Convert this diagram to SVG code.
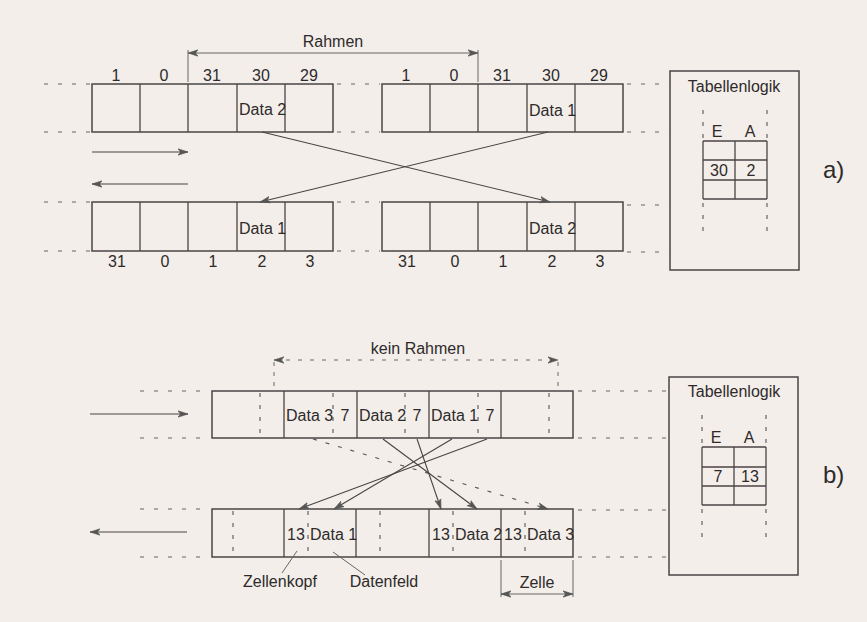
<svg xmlns="http://www.w3.org/2000/svg" width="867" height="622" viewBox="0 0 867 622">
<style>
.bg{fill:#f3eeea}
.frame{fill:none;stroke:#4a4545;stroke-width:1.5}
.sep{stroke:#4a4545;stroke-width:1.3}
.dsep{stroke:#5a5555;stroke-width:1.1;stroke-dasharray:4 8}
.ext{stroke:#6a6565;stroke-width:1.1;stroke-dasharray:4 10}
.thin{stroke:#666;stroke-width:1;fill:none}
.dthin{stroke:#666;stroke-width:1;fill:none;stroke-dasharray:4 6}
.conn{stroke:#4a4545;stroke-width:1.1;fill:none;marker-end:url(#ah)}
.dconn{stroke:#5a5555;stroke-width:1.1;fill:none;stroke-dasharray:4 9;marker-end:url(#ah)}
.dim{stroke:#666;stroke-width:1;fill:none;marker-start:url(#ah);marker-end:url(#ah)}
.ddim{stroke:#666;stroke-width:1;fill:none;stroke-dasharray:4 8;marker-start:url(#ah);marker-end:url(#ah)}
text{font-family:"Liberation Sans",Arial,sans-serif;font-size:16px;fill:#2e2a2a}
.c{text-anchor:middle}
.big{font-size:24px}
</style>
<defs>
<marker id="ah" markerUnits="userSpaceOnUse" markerWidth="11" markerHeight="8" refX="10" refY="4" orient="auto-start-reverse">
<path d="M0,0.8 L10,4 L0,7.2 L2.5,4 z" fill="#555" stroke="#555" stroke-width="0.6"/>
</marker>
</defs>
<rect class="bg" x="0" y="0" width="867" height="622"/>

<!-- ===== Part a ===== -->
<g id="a-top-left">
<rect class="frame" x="92" y="84" width="241" height="48"/>
<line class="sep" x1="140" y1="84" x2="140" y2="132"/>
<line class="sep" x1="188" y1="84" x2="188" y2="132"/>
<line class="sep" x1="237" y1="84" x2="237" y2="132"/>
<line class="sep" x1="285" y1="84" x2="285" y2="132"/>
<text class="c" x="116" y="81">1</text>
<text class="c" x="164" y="81">0</text>
<text class="c" x="212" y="81">31</text>
<text class="c" x="261" y="81">30</text>
<text class="c" x="309" y="81">29</text>
<text x="239" y="115">Data 2</text>
</g>
<g id="a-top-right">
<rect class="frame" x="382" y="84" width="241" height="48"/>
<line class="sep" x1="430" y1="84" x2="430" y2="132"/>
<line class="sep" x1="478" y1="84" x2="478" y2="132"/>
<line class="sep" x1="527" y1="84" x2="527" y2="132"/>
<line class="sep" x1="575" y1="84" x2="575" y2="132"/>
<text class="c" x="406" y="81">1</text>
<text class="c" x="454" y="81">0</text>
<text class="c" x="502" y="81">31</text>
<text class="c" x="551" y="81">30</text>
<text class="c" x="599" y="81">29</text>
<text x="529" y="116">Data 1</text>
</g>
<g id="a-bottom-left">
<rect class="frame" x="92" y="202" width="241" height="49"/>
<line class="sep" x1="140" y1="202" x2="140" y2="251"/>
<line class="sep" x1="188" y1="202" x2="188" y2="251"/>
<line class="sep" x1="237" y1="202" x2="237" y2="251"/>
<line class="sep" x1="285" y1="202" x2="285" y2="251"/>
<text class="c" x="117" y="267">31</text>
<text class="c" x="165" y="267">0</text>
<text class="c" x="213" y="267">1</text>
<text class="c" x="262" y="267">2</text>
<text class="c" x="310" y="267">3</text>
<text x="239" y="234">Data 1</text>
</g>
<g id="a-bottom-right">
<rect class="frame" x="382" y="202" width="241" height="49"/>
<line class="sep" x1="430" y1="202" x2="430" y2="251"/>
<line class="sep" x1="478" y1="202" x2="478" y2="251"/>
<line class="sep" x1="527" y1="202" x2="527" y2="251"/>
<line class="sep" x1="575" y1="202" x2="575" y2="251"/>
<text class="c" x="407" y="267">31</text>
<text class="c" x="455" y="267">0</text>
<text class="c" x="503" y="267">1</text>
<text class="c" x="552" y="267">2</text>
<text class="c" x="600" y="267">3</text>
<text x="529" y="234">Data 2</text>
</g>
<g id="a-table">
<rect class="frame" x="670" y="71" width="129" height="199"/>
<text class="c" x="734" y="92">Tabellenlogik</text>
<line class="sep" x1="703" y1="141" x2="767" y2="141"/>
<line class="sep" x1="703" y1="160" x2="767" y2="160"/>
<line class="sep" x1="703" y1="180" x2="767" y2="180"/>
<line class="sep" x1="703" y1="199" x2="767" y2="199"/>
<line class="sep" x1="703" y1="141" x2="703" y2="199"/>
<line class="sep" x1="735" y1="141" x2="735" y2="199"/>
<line class="sep" x1="767" y1="141" x2="767" y2="199"/>
<line class="dsep" x1="703" y1="110" x2="703" y2="141"/>
<line class="dsep" x1="767" y1="110" x2="767" y2="141"/>
<line class="dsep" x1="703" y1="203" x2="703" y2="233"/>
<line class="dsep" x1="767" y1="203" x2="767" y2="233"/>
<text class="c" x="717" y="137">E</text>
<text class="c" x="750" y="137">A</text>
<text class="c" x="719" y="176">30</text>
<text class="c" x="751" y="176">2</text>
</g>
<text class="big" x="823" y="178">a)</text>
<text class="c" x="333" y="47">Rahmen</text>

<!-- ===== Part b ===== -->
<g id="b-top">
<rect class="frame" x="212" y="391" width="361" height="47"/>
<line class="sep" x1="284" y1="391" x2="284" y2="438"/>
<line class="sep" x1="357" y1="391" x2="357" y2="438"/>
<line class="sep" x1="429" y1="391" x2="429" y2="438"/>
<line class="sep" x1="501" y1="391" x2="501" y2="438"/>
<line class="dsep" x1="260" y1="393" x2="260" y2="438"/>
<line class="dsep" x1="333" y1="393" x2="333" y2="438"/>
<line class="dsep" x1="405" y1="393" x2="405" y2="438"/>
<line class="dsep" x1="478" y1="393" x2="478" y2="438"/>
<line class="dsep" x1="549" y1="393" x2="549" y2="438"/>
<text x="286" y="421">Data 3</text>
<text class="c" x="345" y="421">7</text>
<text x="359" y="421">Data 2</text>
<text class="c" x="417" y="421">7</text>
<text x="431" y="421">Data 1</text>
<text class="c" x="490" y="421">7</text>
</g>
<g id="b-bottom">
<rect class="frame" x="212" y="509" width="361" height="48"/>
<line class="sep" x1="284" y1="509" x2="284" y2="557"/>
<line class="sep" x1="356" y1="509" x2="356" y2="557"/>
<line class="sep" x1="429" y1="509" x2="429" y2="557"/>
<line class="sep" x1="501" y1="509" x2="501" y2="557"/>
<line class="dsep" x1="233" y1="511" x2="233" y2="557"/>
<line class="dsep" x1="308" y1="511" x2="308" y2="557"/>
<line class="dsep" x1="380" y1="511" x2="380" y2="557"/>
<line class="dsep" x1="453" y1="511" x2="453" y2="557"/>
<line class="dsep" x1="525" y1="511" x2="525" y2="557"/>
<text class="c" x="296" y="540">13</text>
<text x="310" y="540">Data 1</text>
<text class="c" x="441" y="540">13</text>
<text x="455" y="540">Data 2</text>
<text class="c" x="513" y="540">13</text>
<text x="527" y="540">Data 3</text>
</g>
<g id="b-table">
<rect class="frame" x="669" y="377" width="129" height="198"/>
<text class="c" x="734" y="397">Tabellenlogik</text>
<line class="sep" x1="702" y1="447" x2="766" y2="447"/>
<line class="sep" x1="702" y1="467" x2="766" y2="467"/>
<line class="sep" x1="702" y1="486" x2="766" y2="486"/>
<line class="sep" x1="702" y1="505" x2="766" y2="505"/>
<line class="sep" x1="702" y1="447" x2="702" y2="505"/>
<line class="sep" x1="734" y1="447" x2="734" y2="505"/>
<line class="sep" x1="766" y1="447" x2="766" y2="505"/>
<line class="dsep" x1="702" y1="415" x2="702" y2="447"/>
<line class="dsep" x1="766" y1="415" x2="766" y2="447"/>
<line class="dsep" x1="702" y1="509" x2="702" y2="538"/>
<line class="dsep" x1="766" y1="509" x2="766" y2="538"/>
<text class="c" x="716" y="443">E</text>
<text class="c" x="749" y="443">A</text>
<text class="c" x="718" y="482">7</text>
<text class="c" x="750" y="482">13</text>
</g>
<text class="big" x="823" y="483">b)</text>
<text class="c" x="418" y="354">kein Rahmen</text>
<text class="c" x="280" y="587">Zellenkopf</text>
<text class="c" x="384" y="587">Datenfeld</text>
<text class="c" x="537" y="588">Zelle</text>

<!-- ===== Connectors ===== -->
<g id="connectors">
<line class="ext" x1="44" y1="84" x2="90" y2="84"/>
<line class="ext" x1="44" y1="132" x2="90" y2="132"/>
<line class="ext" x1="337" y1="84" x2="380" y2="84"/>
<line class="ext" x1="337" y1="132" x2="380" y2="132"/>
<line class="ext" x1="627" y1="84" x2="670" y2="84"/>
<line class="ext" x1="627" y1="132" x2="670" y2="132"/>
<line class="ext" x1="44" y1="202" x2="90" y2="202"/>
<line class="ext" x1="44" y1="251" x2="90" y2="251"/>
<line class="ext" x1="337" y1="202" x2="380" y2="202"/>
<line class="ext" x1="337" y1="251" x2="380" y2="251"/>
<line class="ext" x1="627" y1="205" x2="670" y2="205"/>
<line class="ext" x1="627" y1="252" x2="670" y2="252"/>
<line class="thin" x1="188" y1="50" x2="188" y2="82"/>
<line class="thin" x1="478" y1="50" x2="478" y2="82"/>
<line class="dim" x1="188" y1="53" x2="478" y2="53"/>
<line class="conn" x1="92" y1="152" x2="188" y2="152"/>
<line class="conn" x1="188" y1="184" x2="92" y2="184"/>
<line class="conn" x1="262" y1="132" x2="550" y2="202"/>
<line class="conn" x1="548" y1="132" x2="260" y2="202"/>

<line class="ext" x1="140" y1="391" x2="208" y2="391"/>
<line class="ext" x1="140" y1="438" x2="208" y2="438"/>
<line class="ext" x1="578" y1="391" x2="669" y2="391"/>
<line class="ext" x1="578" y1="438" x2="669" y2="438"/>
<line class="ext" x1="140" y1="509" x2="208" y2="509"/>
<line class="ext" x1="140" y1="557" x2="208" y2="557"/>
<line class="ext" x1="578" y1="510" x2="669" y2="510"/>
<line class="ext" x1="578" y1="557" x2="669" y2="557"/>
<line class="dthin" x1="274" y1="362" x2="274" y2="390"/>
<line class="dthin" x1="558" y1="362" x2="558" y2="390"/>
<line class="ddim" x1="274" y1="360" x2="558" y2="360"/>
<line class="conn" x1="90" y1="414" x2="188" y2="414"/>
<line class="conn" x1="187" y1="532" x2="90" y2="532"/>
<line class="dconn" x1="313" y1="439" x2="548" y2="509"/>
<line class="conn" x1="383" y1="439" x2="477" y2="509"/>
<line class="conn" x1="417" y1="439" x2="441" y2="509"/>
<line class="conn" x1="452" y1="439" x2="334" y2="509"/>
<line class="conn" x1="487" y1="439" x2="299" y2="509"/>
<line class="thin" x1="282" y1="573" x2="297" y2="551"/>
<line class="thin" x1="365" y1="575" x2="333" y2="552"/>
<line class="thin" x1="501" y1="560" x2="501" y2="597"/>
<line class="thin" x1="573" y1="560" x2="573" y2="597"/>
<line class="dim" x1="501" y1="594" x2="573" y2="594"/>
</g>
</svg>
